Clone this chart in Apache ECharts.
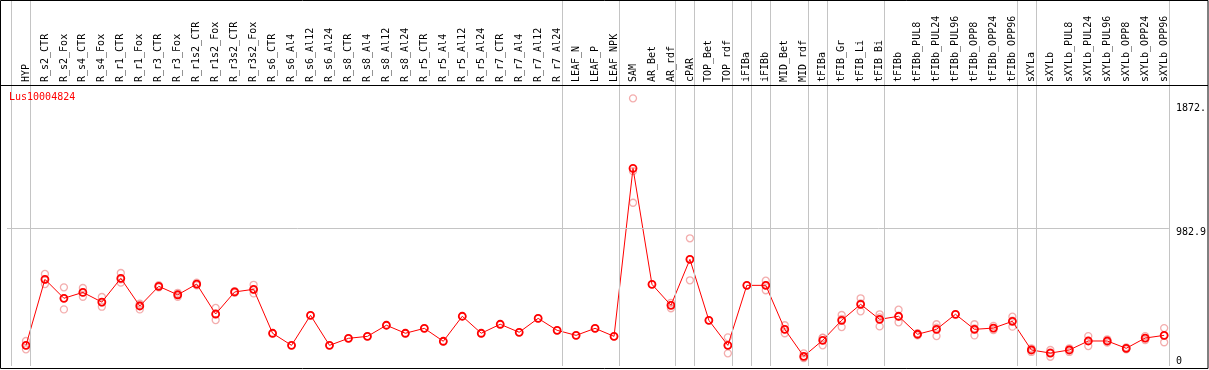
<!DOCTYPE html>
<html><head><meta charset="utf-8">
<script src="https://cdn.jsdelivr.net/npm/echarts@6/dist/echarts.min.js"></script>
<style>html,body{margin:0;padding:0;background:#fff}#c{width:1209px;height:370px}</style>
</head><body><div id="c"></div>
<script>
const geneName = 'Lus10004824';
const categories = ['HYP','R_s2_CTR','R_s2_Fox','R_s4_CTR','R_s4_Fox','R_r1_CTR','R_r1_Fox','R_r3_CTR','R_r3_Fox','R_r1s2_CTR','R_r1s2_Fox','R_r3s2_CTR','R_r3s2_Fox','R_s6_CTR','R_s6_Al4','R_s6_Al12','R_s6_Al24','R_s8_CTR','R_s8_Al4','R_s8_Al12','R_s8_Al24','R_r5_CTR','R_r5_Al4','R_r5_Al12','R_r5_Al24','R_r7_CTR','R_r7_Al4','R_r7_Al12','R_r7_Al24','LEAF_N','LEAF_P','LEAF_NPK','SAM','AR_Bet','AR_rdf','cPAR','TOP_Bet','TOP_rdf','iFIBa','iFIBb','MID_Bet','MID_rdf','tFIBa','tFIB_Gr','tFIB_Li','tFIB_Bi','tFIBb','tFIBb_PUL8','tFIBb_PUL24','tFIBb_PUL96','tFIBb_OPP8','tFIBb_OPP24','tFIBb_OPP96','sXYLa','sXYLb','sXYLb_PUL8','sXYLb_PUL24','sXYLb_PUL96','sXYLb_OPP8','sXYLb_OPP24','sXYLb_OPP96'];
const means = [147,617,482,524,455,624,427,567,507,583,370,527,546,233,147,361,147,197,211,290,233,268,176,354,233,297,240,339,254,218,268,211,1407,581,432,759,325,147,574,574,261,69,183,325,439,332,354,226,261,368,261,270,318,114,92,114,178,178,126,199,218];
const replicates = [[178,119,147],[655,583,613],[560,403,483],[555,493,524],[491,422,452],[662,593,617],[434,403,444],[576,560,565],[521,493,507],[593,574,582],[413,327,370],[532,521,528],[578,517,543],[233],[147],[361],[147],[197],[211],[290],[233],[268],[176],[354],[233],[297],[240],[339],[254],[218],[268],[211],[1905,1387,1162],[581],[450,411,435],[909,610,759],[325],[204,90,147],[574],[607,539,576],[290,233,261],[90,60,57],[147,200,202],[363,277,335],[482,389,446],[368,282,346],[401,311,350],[233,226,219],[297,213,273],[368],[297,218,268],[285,256,269],[351,280,323],[126,100,116],[114,66,96],[126,100,116],[213,142,179],[190,166,178],[133,119,126],[213,185,199],[270,169,215]];
const groupEnds = [-1,0,28,31,34,35,37,38,39,41,42,45,52,53,60];
const gridValue = 982.9;
const topLabels = [982.9, 1872];
const bottomLabels = [0];

const FONT = 'DejaVu Sans Mono';
const chart = echarts.init(document.getElementById('c'));
const repData = [];
replicates.forEach((r, i) => r.forEach(v => repData.push([i, v])));
const yBase = {type:'value', position:'right', min:0, max:2605,
  axisLine:{show:false}, axisTick:{show:false}, splitLine:{show:false}};
chart.setOption({
  animation:false,
  backgroundColor:'#fff',
  title:{text:geneName, left:9, top:92, padding:0,
    textStyle:{color:'#ff0000', fontSize:10, fontWeight:'normal', fontFamily:FONT}},
  grid:{left:7, right:38.25, top:0, bottom:4},
  xAxis:{type:'value', position:'top', offset:-83, min:-1, max:60.25, interval:1,
    axisLine:{show:false}, axisTick:{show:false}, splitLine:{show:false},
    axisLabel:{rotate:90, margin:1, fontFamily:FONT, fontSize:10, color:'#000',
      formatter:v => Number.isInteger(v) ? (categories[v] || '') : ''}},
  yAxis:[
    Object.assign({}, yBase, {axisLabel:{customValues:topLabels, margin:7, align:'left', verticalAlign:'top',
      fontFamily:FONT, fontSize:10, color:'#000', formatter:v => v === 1872 ? '1872.' : String(v)}}),
    Object.assign({}, yBase, {axisLabel:{customValues:bottomLabels, margin:7, align:'left', verticalAlign:'bottom',
      fontFamily:FONT, fontSize:10, color:'#000'}})
  ],
  graphic:[
    {type:'rect', shape:{x:0.5, y:0.5, width:1207.5, height:368}, style:{fill:null, stroke:'#000', lineWidth:1}, z:100},
    {type:'line', shape:{x1:0, y1:85.5, x2:1208, y2:85.5}, style:{stroke:'#000', lineWidth:1}, z:100}
  ],
  series:[
    {type:'line', data:[], z:1, silent:true,
      markLine:{silent:true, symbol:'none', label:{show:false},
        lineStyle:{color:'#c4c4c4', width:1, type:'solid'},
        data:[...groupEnds.map(k => ({xAxis:k + 0.25})), {yAxis:gridValue}]}},
    {type:'scatter', data:repData, z:2, symbol:'circle', symbolSize:7,
      itemStyle:{color:'rgba(0,0,0,0)', borderColor:'#f09898', borderWidth:1.3}},
    {type:'line', data:means.map((v, i) => [i, v]), z:3, symbol:'circle', symbolSize:7,
      lineStyle:{color:'#ff0000', width:1},
      itemStyle:{color:'rgba(0,0,0,0)', borderColor:'#ff0000', borderWidth:1.8}}
  ]
});
</script></body></html>
